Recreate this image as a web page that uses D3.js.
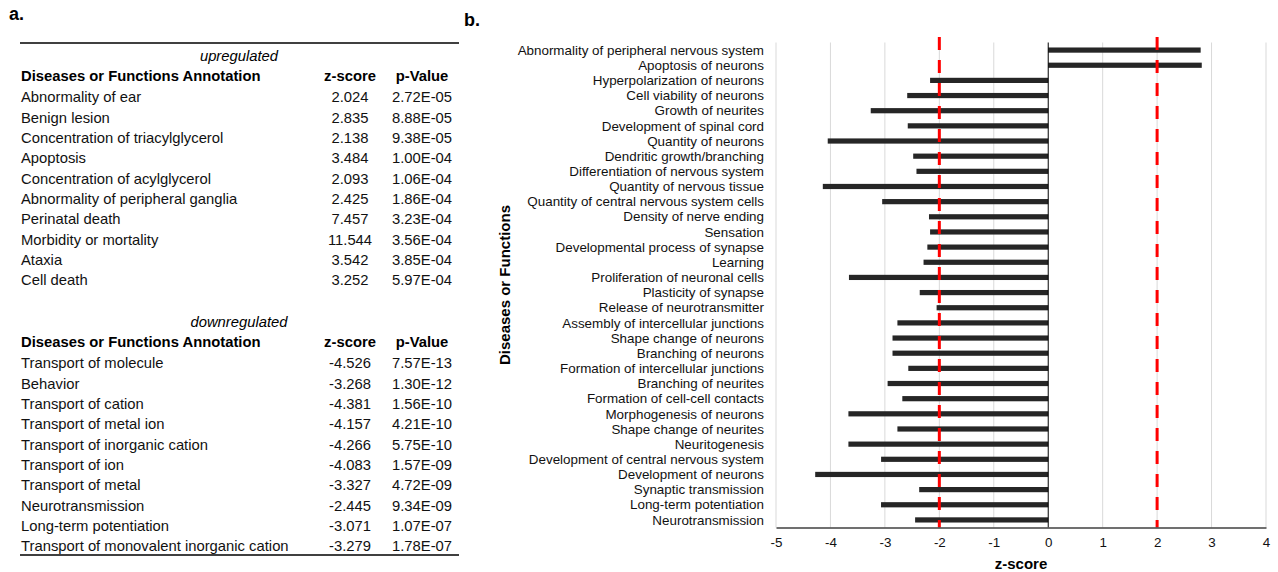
<!DOCTYPE html>
<html>
<head>
<meta charset="utf-8">
<script src="https://cdn.jsdelivr.net/npm/d3@7"></script>
<style>
  body { margin: 0; background: #fff; }
  svg { font-family: "Liberation Sans", Arial, sans-serif; }
</style>
</head>
<body>
<svg width="1278" height="572"></svg>
<script>
// Table (panel a) data
var upNames = ["Abnormality of ear", "Benign lesion", "Concentration of triacylglycerol", "Apoptosis",
  "Concentration of acylglycerol", "Abnormality of peripheral ganglia", "Perinatal death",
  "Morbidity or mortality", "Ataxia", "Cell death"];
var upZ = [2.024, 2.835, 2.138, 3.484, 2.093, 2.425, 7.457, 11.544, 3.542, 3.252];
var upP = ["2.72E-05", "8.88E-05", "9.38E-05", "1.00E-04", "1.06E-04", "1.86E-04", "3.23E-04",
  "3.56E-04", "3.85E-04", "5.97E-04"];

var downNames = ["Transport of molecule", "Behavior", "Transport of cation", "Transport of metal ion",
  "Transport of inorganic cation", "Transport of ion", "Transport of metal", "Neurotransmission",
  "Long-term potentiation", "Transport of monovalent inorganic cation"];
var downZ = [-4.526, -3.268, -4.381, -4.157, -4.266, -4.083, -3.327, -2.445, -3.071, -3.279];
var downP = ["7.57E-13", "1.30E-12", "1.56E-10", "4.21E-10", "5.75E-10", "1.57E-09", "4.72E-09",
  "9.34E-09", "1.07E-07", "1.78E-07"];

// Bar chart (panel b) data
var categories = ["Abnormality of peripheral nervous system", "Apoptosis of neurons",
  "Hyperpolarization of neurons", "Cell viability of neurons", "Growth of neurites",
  "Development of spinal cord", "Quantity of neurons", "Dendritic growth/branching",
  "Differentiation of nervous system", "Quantity of nervous tissue",
  "Quantity of central nervous system cells", "Density of nerve ending", "Sensation",
  "Developmental process of synapse", "Learning", "Proliferation of neuronal cells",
  "Plasticity of synapse", "Release of neurotransmitter", "Assembly of intercellular junctions",
  "Shape change of neurons", "Branching of neurons", "Formation of intercellular junctions",
  "Branching of neurites", "Formation of cell-cell contacts", "Morphogenesis of neurons",
  "Shape change of neurites", "Neuritogenesis", "Development of central nervous system",
  "Development of neurons", "Synaptic transmission", "Long-term potentiation", "Neurotransmission"];
var zScores = [2.80, 2.82, -2.17, -2.59, -3.26, -2.58, -4.05, -2.48, -2.42, -4.14,
  -3.05, -2.19, -2.17, -2.22, -2.29, -3.66, -2.36, -2.05, -2.77, -2.86,
  -2.86, -2.57, -2.95, -2.68, -3.67, -2.77, -3.67, -3.07, -4.28, -2.37, -3.071, -2.445];
var xTicks = [-5, -4, -3, -2, -1, 0, 1, 2, 3, 4];
var thresholds = [-2, 2];

var svg = d3.select("svg");

// ---------- panel a: table ----------
svg.append("text").attr("x", 9).attr("y", 20)
  .style("font-size", "18px").style("font-weight", "bold").text("a.");

var tbl = {left: 20, right: 459, labelX: 21, zX: 350, pX: 422, step: 20.35};

svg.append("line").attr("x1", tbl.left).attr("x2", tbl.right).attr("y1", 43).attr("y2", 43)
  .attr("stroke", "#000").attr("stroke-width", 1.3);
svg.append("line").attr("x1", tbl.left).attr("x2", tbl.right).attr("y1", 555).attr("y2", 555)
  .attr("stroke", "#000").attr("stroke-width", 1.3);

function drawBlock(title, titleY, names, zs, ps) {
  var g = svg.append("g").style("font-size", "14.8px");
  g.append("text").attr("x", 239).attr("y", titleY).attr("text-anchor", "middle")
    .attr("dy", "0.35em").style("font-style", "italic").text(title);
  var hy = titleY + 20;
  var head = g.append("g").style("font-weight", "bold");
  head.append("text").attr("x", tbl.labelX).attr("y", hy).attr("dy", "0.35em").text("Diseases or Functions Annotation");
  head.append("text").attr("x", tbl.zX).attr("y", hy).attr("dy", "0.35em").attr("text-anchor", "middle").text("z-score");
  head.append("text").attr("x", tbl.pX).attr("y", hy).attr("dy", "0.35em").attr("text-anchor", "middle").text("p-Value");

  var rows = g.selectAll("g.row").data(names.map((n, i) => ({n: n, z: zs[i], p: ps[i]})))
    .enter().append("g").attr("class", "row")
    .attr("transform", (d, i) => `translate(0,${hy + 21 + i * tbl.step})`);
  rows.append("text").attr("x", tbl.labelX).attr("dy", "0.35em").attr("fill", "#111").text(d => d.n);
  rows.append("text").attr("x", tbl.zX).attr("dy", "0.35em").attr("text-anchor", "middle").attr("fill", "#111").text(d => d.z.toFixed(3));
  rows.append("text").attr("x", tbl.pX).attr("dy", "0.35em").attr("text-anchor", "middle").attr("fill", "#111").text(d => d.p);
}
drawBlock("upregulated", 56, upNames, upZ, upP);
drawBlock("downregulated", 322, downNames, downZ, downP);

// ---------- panel b: bar chart ----------
svg.append("text").attr("x", 464).attr("y", 26)
  .style("font-size", "18px").style("font-weight", "bold").text("b.");

var x = d3.scaleLinear().domain([-5, 4]).range([776, 1266]);
var y = d3.scaleBand().domain(categories).range([42.5, 527.5]);

// gridlines
svg.append("g").selectAll("line").data(xTicks.filter(t => t !== 0)).enter().append("line")
  .attr("x1", d => x(d)).attr("x2", d => x(d))
  .attr("y1", y.range()[0]).attr("y2", y.range()[1])
  .attr("stroke", "#d9d9d9").attr("stroke-width", 1);

// bars
svg.append("g").selectAll("rect").data(categories).enter().append("rect")
  .attr("x", (d, i) => x(Math.min(0, zScores[i])))
  .attr("width", (d, i) => Math.abs(x(zScores[i]) - x(0)))
  .attr("y", d => y(d) + y.bandwidth() / 2 - 2.6)
  .attr("height", 5.2)
  .attr("fill", "#262626");

// zero line
svg.append("line").attr("x1", x(0)).attr("x2", x(0))
  .attr("y1", y.range()[0]).attr("y2", y.range()[1])
  .attr("stroke", "#000").attr("stroke-width", 1);

// threshold dashed lines
svg.append("g").selectAll("line").data(thresholds).enter().append("line")
  .attr("x1", d => x(d)).attr("x2", d => x(d))
  .attr("y1", 37).attr("y2", y.range()[1])
  .attr("stroke", "#ff0000").attr("stroke-width", 3)
  .attr("stroke-dasharray", "13,10");

// x axis
var xAxis = svg.append("g")
  .attr("transform", `translate(0,${y.range()[1]})`)
  .call(d3.axisBottom(x).tickValues(xTicks).tickSize(0).tickSizeOuter(0).tickPadding(10).tickFormat(d => String(d)));
xAxis.select(".domain").attr("stroke", "#404040").attr("stroke-width", 1.3);
xAxis.selectAll("text").style("font-size", "13.4px").style("font-family", "Liberation Sans, Arial, sans-serif").attr("fill", "#111");

svg.append("text").attr("x", (x(-5) + x(4)) / 2).attr("y", 564).attr("dy", "0.35em")
  .attr("text-anchor", "middle").style("font-size", "15px").style("font-weight", "bold").text("z-score");

// y labels
svg.append("g").selectAll("text").data(categories).enter().append("text")
  .attr("x", 764).attr("y", d => y(d) + y.bandwidth() / 2).attr("dy", "0.35em")
  .attr("text-anchor", "end").style("font-size", "13.4px").attr("fill", "#111").text(d => d);

svg.append("text")
  .attr("transform", `translate(505,${(y.range()[0] + y.range()[1]) / 2}) rotate(-90)`)
  .attr("text-anchor", "middle").attr("dy", "0.35em")
  .style("font-size", "15px").style("font-weight", "bold").text("Diseases or Functions");
</script>
</body>
</html>
